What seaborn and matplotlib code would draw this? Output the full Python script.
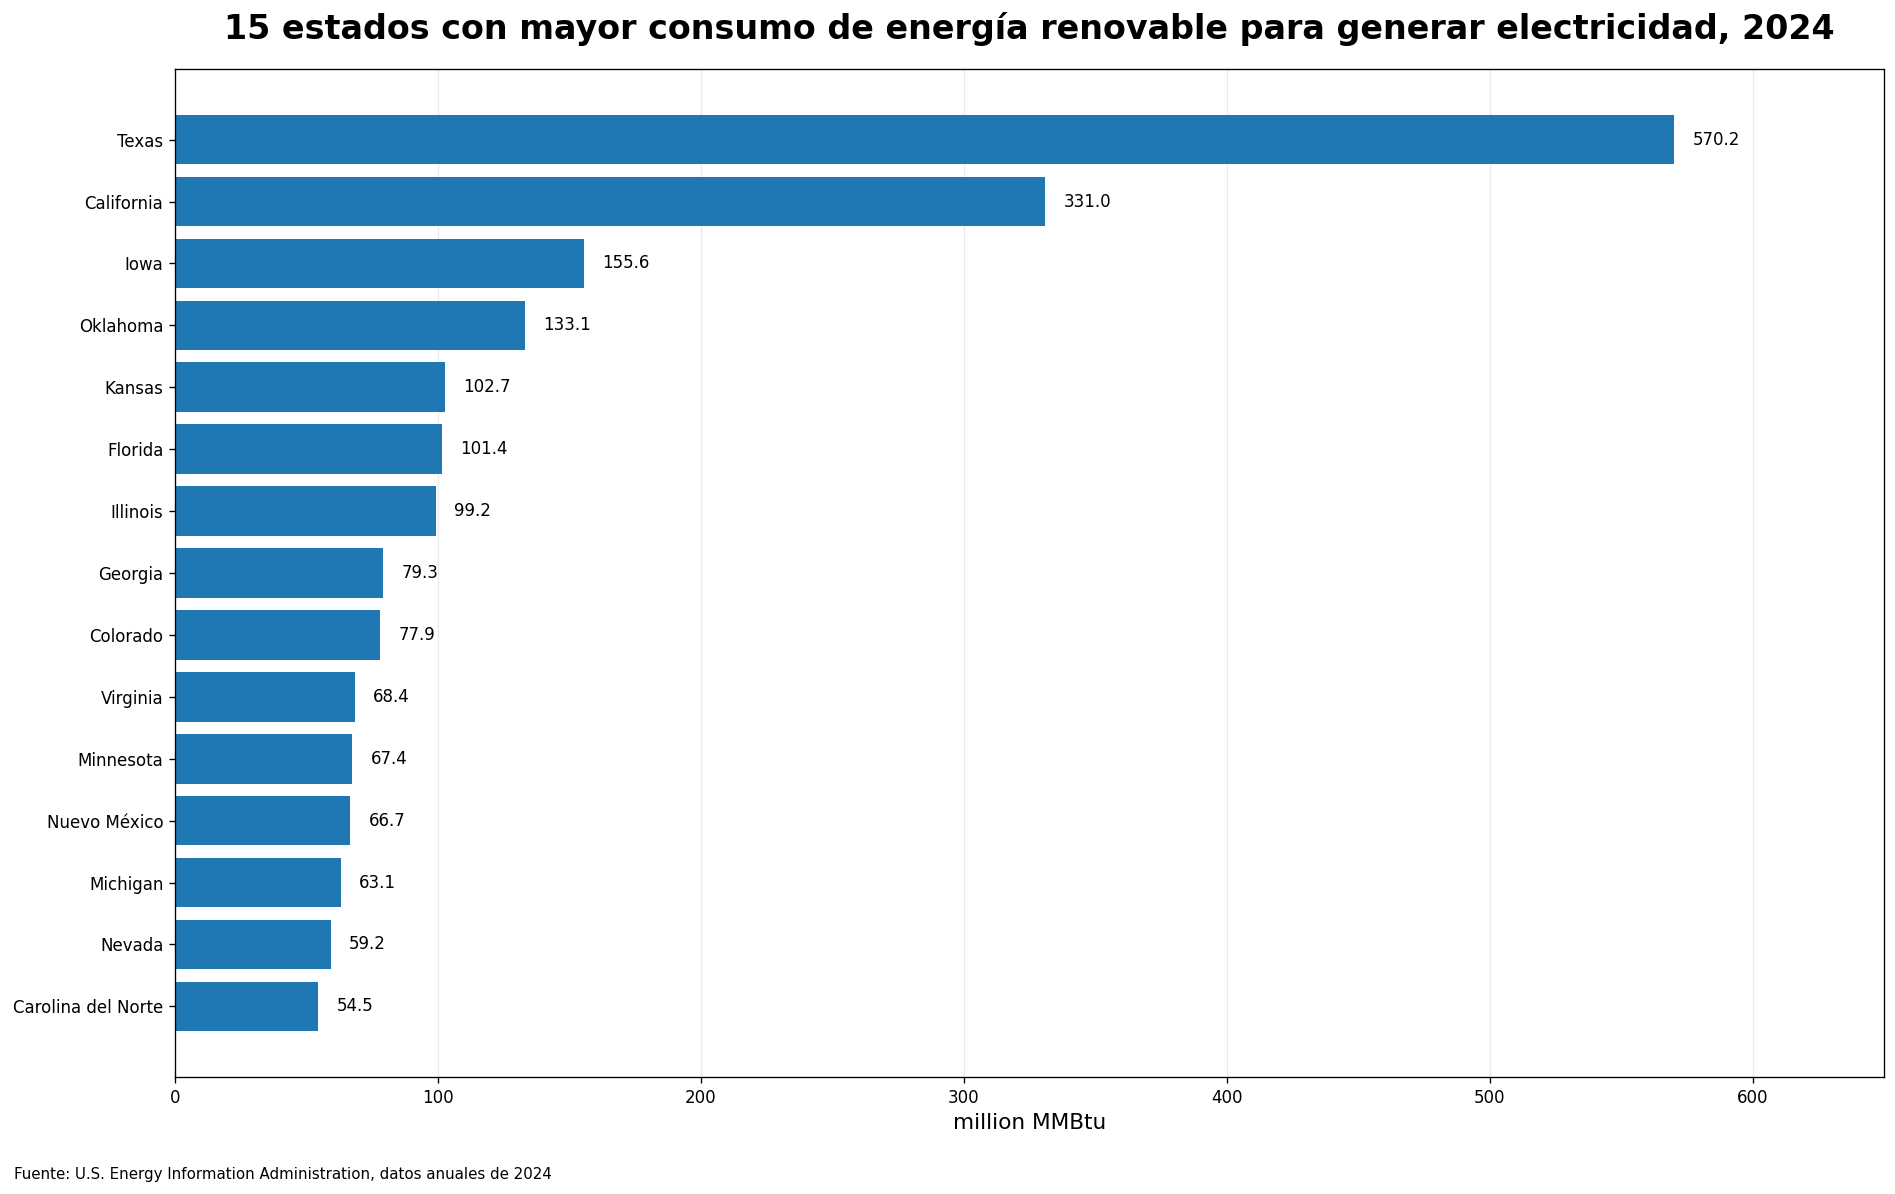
import numpy as np
import pandas as pd
import matplotlib
matplotlib.use("Agg")
import matplotlib.pyplot as plt
import seaborn as sns

estados = ["Texas", "California", "Iowa", "Oklahoma", "Kansas", "Florida",
           "Illinois", "Georgia", "Colorado", "Virginia", "Minnesota",
           "Nuevo México", "Michigan", "Nevada", "Carolina del Norte"]
consumo = [570.2, 331.0, 155.6, 133.1, 102.7, 101.4, 99.2, 79.3, 77.9,
           68.4, 67.4, 66.7, 63.1, 59.2, 54.5]

df = pd.DataFrame({"estado": estados, "consumo": consumo})

fig = plt.figure(figsize=(1895 / 120, 1194 / 120), dpi=120)
ax = fig.add_axes([175 / 1895, 1 - 1077 / 1194, 1709 / 1895, (1077 - 69) / 1194])

sns.barplot(data=df, x="consumo", y="estado", orient="h", color="#1f77b4",
            saturation=1, width=0.8, ax=ax)

ax.bar_label(ax.containers[0], fmt="%.1f", padding=11, fontsize=10)

ax.set_xlim(0, 650)
ax.set_ylim(15.14, -1.14)
ax.grid(axis="x", color="#dddddd", alpha=0.6, linewidth=0.8)
ax.set_axisbelow(True)
ax.tick_params(labelsize=10)
ax.set_ylabel("")
ax.set_xlabel("million MMBtu", fontsize=13)
ax.set_title("15 estados con mayor consumo de energía renovable para generar electricidad, 2024",
             fontsize=20, fontweight="bold", pad=18)

fig.text(14 / 1895, 1 - 1174 / 1194, "Fuente: U.S. Energy Information Administration, datos anuales de 2024",
         fontsize=9, va="center")

fig.savefig("out.png", dpi=120)
